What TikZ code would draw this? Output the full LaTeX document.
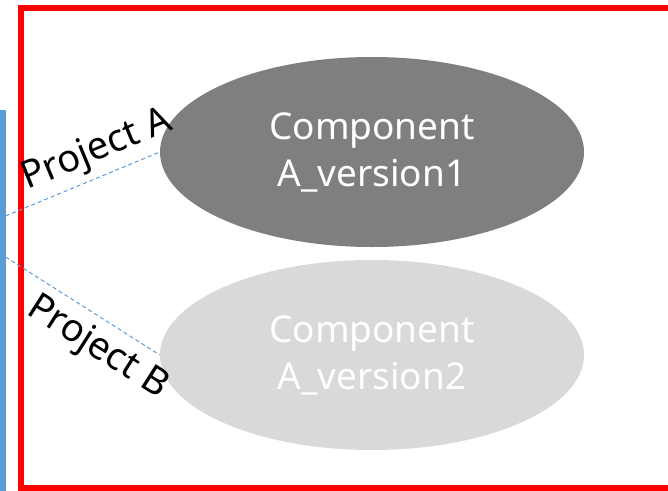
\documentclass[tikz,border=0pt]{standalone}
\usepackage{fontspec}
\setmainfont{Noto Sans}
\usetikzlibrary{shapes.geometric}
\definecolor{frame}{HTML}{FF0000}
\definecolor{barblue}{HTML}{5B9BD5}
\definecolor{darkcomp}{HTML}{7F7F7F}
\definecolor{lightcomp}{HTML}{D9D9D9}
\tikzset{
  comp/.style={ellipse, draw=none, minimum width=424pt, minimum height=190pt,
    inner sep=0pt, text=white, align=center,
    font=\fontsize{37}{47}\selectfont},
  link/.style={barblue, line width=1pt, dash pattern=on 4pt off 3pt},
  projlabel/.style={font=\fontsize{38}{42}\selectfont, inner sep=0pt}
}
\begin{document}
\begin{tikzpicture}[x=1pt,y=-1pt]
\useasboundingbox (0,0) rectangle (668,490);
\clip (0,0) rectangle (668,490);
\fill[white] (0,0) rectangle (668,490);
% system frame
\draw[frame, line width=6pt] (20.5,8) rectangle (700,488);
% side bar
\fill[barblue] (0,110) rectangle (5.5,500);
% components
\node[comp, fill=darkcomp] (c1) at (372,152) {Component\\A\_version1};
\node[comp, fill=lightcomp] (c2) at (372,355) {Component\\A\_version2};
% connectors
\coordinate (pa) at (5.5,216);
\coordinate (pb) at (5.5,257);
\draw[link] (pa) -- (c1.west);
\draw[link] (pb) -- (c2.west);
\node[projlabel, rotate=22.4] (la) at (97,151) {Project A};
\node[projlabel, rotate=-32.5] (lb) at (97,348) {Project B};
\end{tikzpicture}
\end{document}
